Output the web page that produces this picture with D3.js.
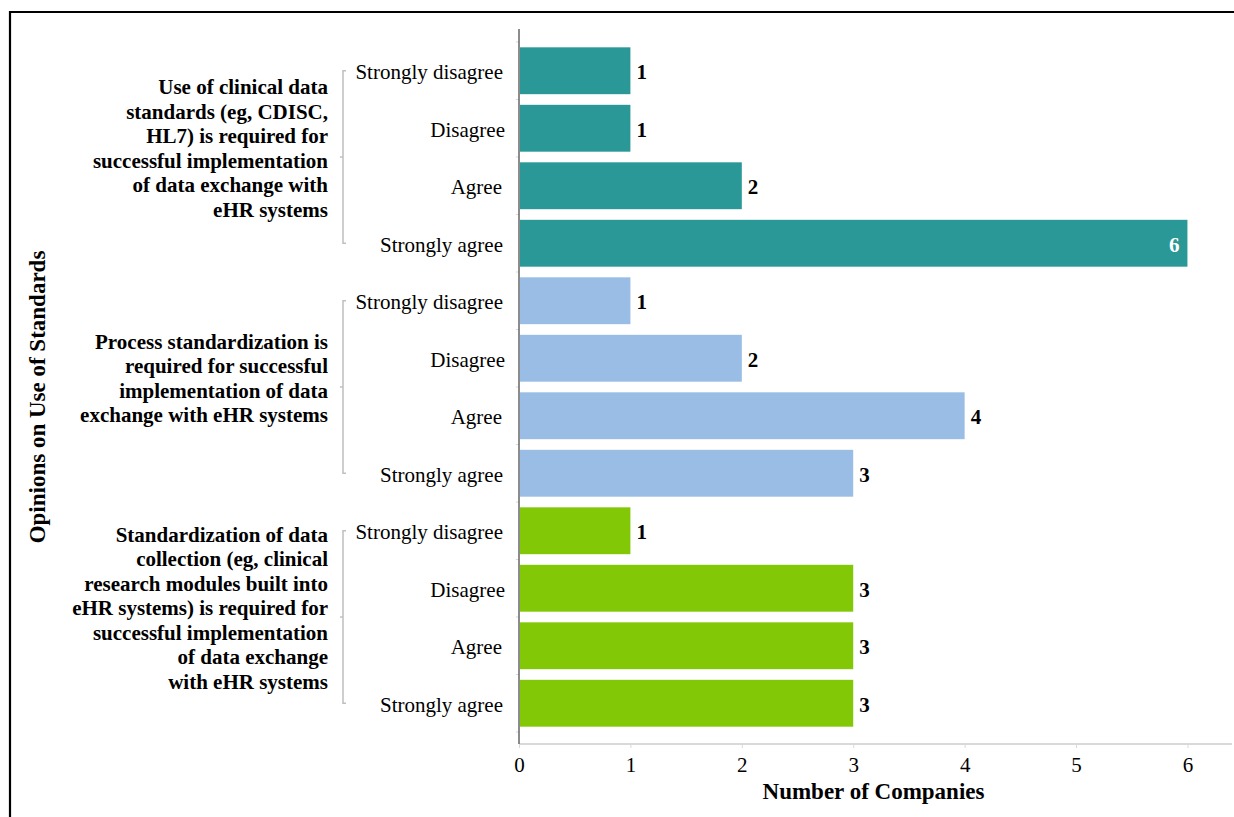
<!DOCTYPE html>
<html>
<head>
<meta charset="utf-8">
<script src="https://cdn.jsdelivr.net/npm/d3@7"></script>
<style>
  html, body { margin: 0; padding: 0; background: #fff; }
  svg { display: block; }
  text { font-family: "Liberation Serif", "Times New Roman", serif; }
</style>
</head>
<body>
<svg id="chart" width="1234" height="817"></svg>
<script>
// Survey responses: number of companies per opinion, grouped by statement
const responses = ["Strongly disagree", "Disagree", "Agree", "Strongly agree"];

const statements = [
  ["Use of clinical data", "standards (eg, CDISC,", "HL7) is required for",
   "successful implementation", "of data exchange with", "eHR systems"],
  ["Process standardization is", "required for successful",
   "implementation of data", "exchange with eHR systems"],
  ["Standardization of data", "collection (eg, clinical", "research modules built into",
   "eHR systems) is required for", "successful implementation",
   "of data exchange", "with eHR systems"]
];

const clinicalStandards = [1, 1, 2, 6];
const processStandardization = [1, 2, 4, 3];
const collectionStandardization = [1, 3, 3, 3];

const xTicks = [0, 1, 2, 3, 4, 5, 6];
const xTitle = "Number of Companies";
const yTitle = "Opinions on Use of Standards";

const groupColors = ["#2A9896", "#99BDE4", "#82C806"];

// One row per (statement, response) pair, top to bottom
const seriesValues = [clinicalStandards, processStandardization, collectionStandardization];
const rows = [];
seriesValues.forEach((vals, g) => {
  vals.forEach((v, i) => rows.push({ id: g + "-" + i, group: g, label: responses[i], value: v }));
});

const svg = d3.select("#chart");

// Frame lines along the top and left edges
svg.append("line").attr("x1", 9).attr("x2", 1234).attr("y1", 12).attr("y2", 12)
  .attr("stroke", "#000").attr("stroke-width", 2.2);
svg.append("line").attr("x1", 10).attr("x2", 10).attr("y1", 11).attr("y2", 817)
  .attr("stroke", "#000").attr("stroke-width", 2.2);

const plot = { left: 519, right: 1232, top: 29, bottom: 744, bandTop: 42, bandBottom: 732 };

const x = d3.scaleLinear().domain([0, 6.4]).range([plot.left, plot.right]);
const y = d3.scaleBand()
  .domain(rows.map(d => d.id))
  .range([plot.bandTop, plot.bandBottom])
  .paddingInner(0.185)
  .paddingOuter(0.0925);

// X axis baseline with small ticks
const xAxis = svg.append("g").attr("transform", `translate(0,${plot.bottom})`)
  .call(d3.axisBottom(x).tickValues(xTicks).tickSize(4).tickFormat(d3.format("d")));
xAxis.select(".domain").attr("stroke", "#d9d9d9").attr("stroke-width", 2)
  .attr("d", `M${plot.left},0H${plot.right}`);
xAxis.selectAll(".tick line").attr("stroke", "#d9d9d9").attr("stroke-width", 1);
xAxis.selectAll(".tick text")
  .attr("y", 28).attr("dy", 0)
  .style("font-family", "Liberation Serif").style("font-size", "21px").style("fill", "#000");

// Category boundary ticks left of the value axis
const step = y.step();
svg.append("g").selectAll("line")
  .data(d3.range(rows.length + 1))
  .join("line")
  .attr("x1", plot.left - 3).attr("x2", plot.left)
  .attr("y1", i => plot.bandTop + i * step).attr("y2", i => plot.bandTop + i * step)
  .attr("stroke", "#d9d9d9").attr("stroke-width", 1);

// Bars
svg.append("g").selectAll("rect")
  .data(rows)
  .join("rect")
  .attr("x", x(0) + 1)
  .attr("y", d => y(d.id))
  .attr("width", d => x(d.value) - x(0) - 1)
  .attr("height", y.bandwidth())
  .attr("fill", d => groupColors[d.group]);

// Value axis line
svg.append("line")
  .attr("x1", plot.left).attr("x2", plot.left)
  .attr("y1", plot.top).attr("y2", plot.bottom)
  .attr("stroke", "#666").attr("stroke-width", 1.5);

// Value labels: outside the bar end, inside (white) for the longest bar
const maxVal = d3.max(rows, d => d.value);
svg.append("g").selectAll("text")
  .data(rows)
  .join("text")
  .attr("x", d => d.value === maxVal ? x(d.value) - 8 : x(d.value) + 6)
  .attr("y", d => y(d.id) + y.bandwidth() / 2 + 1)
  .attr("dy", "0.35em")
  .attr("text-anchor", d => d.value === maxVal ? "end" : "start")
  .style("font-size", "21px").style("font-weight", "bold")
  .style("fill", d => d.value === maxVal ? "#fff" : "#000")
  .text(d => d.value);

// Response labels
svg.append("g").selectAll("text")
  .data(rows)
  .join("text")
  .attr("x", d => d.label === "Disagree" ? 505 : (d.label === "Agree" ? 502 : 503))
  .attr("y", d => y(d.id) + y.bandwidth() / 2 + 1)
  .attr("dy", "0.35em")
  .attr("text-anchor", "end")
  .style("font-size", "21px").style("fill", "#000")
  .text(d => d.label);

// Statement brackets and labels
const bracketX = 343;
const lineHeight = 24.5;
statements.forEach((lines, g) => {
  const first = y(g + "-0") + y.bandwidth() / 2;
  const last = y(g + "-" + (responses.length - 1)) + y.bandwidth() / 2;
  const mid = (first + last) / 2;
  const br = svg.append("g").attr("stroke", "#bfbfbf").attr("stroke-width", 1.5).attr("fill", "none");
  br.append("path").attr("d", `M${bracketX + 3},${first}H${bracketX}V${last}H${bracketX + 3}`);
  br.append("line").attr("x1", bracketX - 3).attr("x2", bracketX).attr("y1", mid).attr("y2", mid);

  const center = mid - 9;
  svg.append("g").selectAll("text")
    .data(lines)
    .join("text")
    .attr("x", 328)
    .attr("y", (t, i) => center + (i - (lines.length - 1) / 2) * lineHeight)
    .attr("dy", "0.35em")
    .attr("text-anchor", "end")
    .style("font-size", "21px").style("font-weight", "bold").style("fill", "#000")
    .text(t => t);
});

// Axis titles
svg.append("text")
  .attr("x", (plot.left + 1228) / 2).attr("y", 799)
  .attr("text-anchor", "middle")
  .style("font-size", "23px").style("font-weight", "bold").style("fill", "#000")
  .text(xTitle);

svg.append("text")
  .attr("transform", "translate(45,397) rotate(-90)")
  .attr("text-anchor", "middle")
  .style("font-size", "23px").style("font-weight", "bold").style("fill", "#000")
  .text(yTitle);
</script>
</body>
</html>
